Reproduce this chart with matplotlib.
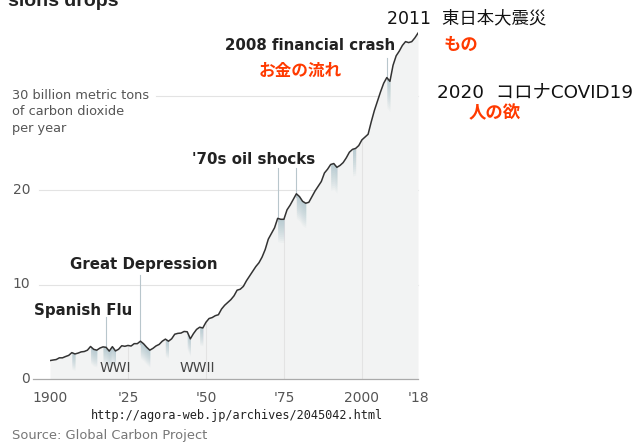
import matplotlib.pyplot as plt
import numpy as np

# Global fossil CO2 emissions, billion metric tons per year
years = list(range(1900, 2019))
emissions = [
    1.95, 2.01, 2.06, 2.24, 2.24, 2.38, 2.50, 2.79, 2.65, 2.74,
    2.87, 2.91, 3.05, 3.44, 3.14, 3.05, 3.27, 3.40, 3.35, 2.95,
    3.42, 2.97, 3.15, 3.52, 3.46, 3.55, 3.49, 3.74, 3.74, 4.00,
    3.73, 3.36, 3.05, 3.24, 3.50, 3.66, 4.00, 4.22, 4.00, 4.25,
    4.74, 4.83, 4.86, 5.03, 5.00, 4.25, 4.80, 5.25, 5.48, 5.40,
    6.00, 6.40, 6.50, 6.70, 6.80, 7.40, 7.80, 8.10, 8.40, 8.80,
    9.40, 9.50, 9.80, 10.40, 10.90, 11.40, 11.90, 12.30, 12.90, 13.70,
    14.80, 15.40, 16.00, 17.00, 16.90, 16.90, 17.90, 18.40, 19.00, 19.60,
    19.30, 18.80, 18.60, 18.70, 19.30, 19.90, 20.40, 20.90, 21.80, 22.20,
    22.70, 22.80, 22.40, 22.60, 22.90, 23.40, 24.00, 24.30, 24.40, 24.70,
    25.30, 25.60, 25.90, 27.20, 28.40, 29.40, 30.40, 31.30, 31.90, 31.50,
    33.20, 34.20, 34.70, 35.30, 35.70, 35.60, 35.70, 36.10, 36.60,
]

# downturn periods shaded under the line
downturns = [(1907, 1908), (1913, 1915), (1917, 1921), (1929, 1932), (1937, 1938),
             (1944, 1945), (1948, 1949), (1973, 1975), (1979, 1982), (1990, 1992),
             (1997, 1998), (2008, 2009)]

# event annotations: (label, x, y, pointer year, pointer top)
events = [
    ("Spanish Flu", 1895.0, 7.2, 1918, 6.6),
    ("Great Depression", 1906.3, 12.1, 1929, 11.0),
    ("'70s oil shocks", 1945.5, 23.2, None, None),
    ("2008 financial crash", 1956.2, 35.3, 2008, 34.0),
]
oil_pointer_years = [1973, 1979]

x_ticks = [1900, 1925, 1950, 1975, 2000, 2018]
x_labels = ["1900", "'25", "'50", "'75", "2000", "'18"]
y_ticks = [0, 10, 20, 30]

years = np.array(years)
emissions = np.array(emissions)

W, H = 634, 442
fig = plt.figure(figsize=(W / 100, H / 100), dpi=100)
ax = fig.add_axes([50 / W, (H - 379) / H, (418 - 50) / W, 379 / H])
ax.set_xlim(1900, 2018)
ax.set_ylim(0, 379 / 9.45)
ax.axis('off')

grid_c = '#e3e3e3'
label_c = '#555555'

# fill under curve
ax.fill_between(years, 0, emissions, color='#f2f3f3', lw=0, zorder=1)

# gradient shading for downturns
for a, b in downturns:
    m = (years >= a) & (years <= b)
    xs, ys = years[m], emissions[m]
    depth = 1.6 + 0.05 * ys.max()
    n = 12
    for i in range(n):
        ax.fill_between(xs, np.maximum(ys - depth * (i + 1) / n, 0), ys,
                        color='#8fb0bb', alpha=0.06, lw=0, zorder=2)

# vertical grid lines under the curve
for t in [1925, 1950, 1975, 2000]:
    ax.plot([t, t], [0, np.interp(t, years, emissions)], color=grid_c, lw=0.8, zorder=1.5)

# horizontal grid lines
ax.plot([1894.5, 2018], [0, 0], color='#aaaaaa', lw=0.9, clip_on=False, zorder=3)
ax.plot([1896.5, 2018], [10, 10], color=grid_c, lw=0.8, clip_on=False, zorder=0.5)
ax.plot([1896.5, 2018], [20, 20], color=grid_c, lw=0.8, clip_on=False, zorder=0.5)
ax.plot([1934, 2018], [30, 30], color=grid_c, lw=0.8, clip_on=False, zorder=0.5)

ax.plot(years, emissions, color='#333333', lw=1.1, zorder=4)

# tick labels
for t in y_ticks[:-1]:
    ax.text(1893.7, t, str(t), ha='right', va='center', fontsize=10, color=label_c)
for t, lab in zip(x_ticks, x_labels):
    ax.text(t, -2.0, lab, ha='center', va='center', fontsize=10, color=label_c)

ax.text(1887.8, 30.7, "30 billion metric tons\nof carbon dioxide\nper year", ha='left', va='top',
        fontsize=9.3, color=label_c, linespacing=1.35)

# annotation texts and pointers
for label, x, y, py, ptop in events:
    ax.text(x, y, label, ha='left', va='center', fontsize=10.8, fontweight='bold',
            family='DejaVu Sans', color='#222222')
    if py is not None:
        ax.plot([py, py], [ptop, np.interp(py, years, emissions) - 0.3],
                color='#b8c6cc', lw=0.8, zorder=3)
for py in oil_pointer_years:
    ax.plot([py, py], [22.3, np.interp(py, years, emissions) - 0.3],
            color='#b8c6cc', lw=0.8, zorder=3)

ax.text(1916, 1.2, "WWI", ha='left', va='center', fontsize=10, color='#444444')
ax.text(1941.5, 1.2, "WWII", ha='left', va='center', fontsize=10, color='#444444')

# Japanese notes
jp = ['Noto Sans CJK JP', 'DejaVu Sans']
latin_jp = ['DejaVu Sans', 'Noto Sans CJK JP']
red = '#ff3a00'
fig.text(300 / W, 1 - 71 / H, "お金の流れ", ha='center', va='center', fontsize=12,
         fontweight='bold', color=red, family=jp)
fig.text(387 / W, 1 - 18 / H, "2011  東日本大震災", ha='left', va='center', fontsize=12.5,
         color='#111111', family=latin_jp)
fig.text(461 / W, 1 - 45 / H, "もの", ha='center', va='center', fontsize=12.5,
         fontweight='bold', color=red, family=jp)
fig.text(437 / W, 1 - 92 / H, "2020  コロナCOVID19", ha='left', va='center', fontsize=13.2,
         color='#111111', family=latin_jp)
fig.text(495 / W, 1 - 113 / H, "人の欲", ha='center', va='center', fontsize=12.5,
         fontweight='bold', color=red, family=jp)

# cropped title, url, source
fig.text(8 / W, 1 - 1 / H, "sions drops", ha='left', va='center', fontsize=14,
         fontweight='bold', family='Liberation Sans', color='#222222')
fig.text(237 / W, 1 - 415 / H, "http://agora-web.jp/archives/2045042.html", ha='center',
         va='center', fontsize=8.6, family='DejaVu Sans Mono', color='#222222')
fig.text(12 / W, 1 - 435 / H, "Source: Global Carbon Project", ha='left', va='center',
         fontsize=9.4, color='#777777')

fig.savefig('out.png', dpi=100)
